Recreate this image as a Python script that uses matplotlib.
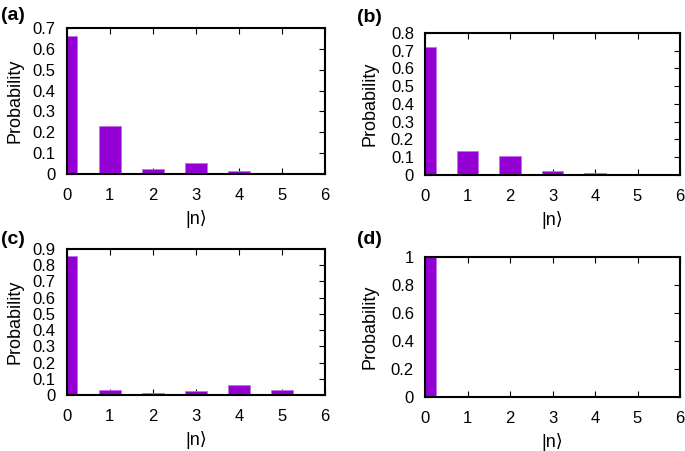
import matplotlib
matplotlib.use('Agg')
import matplotlib.pyplot as plt
from matplotlib.ticker import FormatStrFormatter, MultipleLocator

plt.rcParams['font.family'] = ['Liberation Sans', 'DejaVu Sans']

# photon-number states
n_states = [0, 1, 2, 3, 4, 5, 6]

# probabilities
prob_a = [0.663, 0.232, 0.022, 0.054, 0.014, 0.003, 0.004]
prob_b = [0.719, 0.137, 0.105, 0.021, 0.009, 0.002, 0.005]
prob_c = [0.857, 0.031, 0.012, 0.027, 0.060, 0.029, 0.0]
prob_d = [1.0, 0.0, 0.0, 0.0, 0.0, 0.0, 0.0]

panel_tags = ['(a)', '(b)', '(c)', '(d)']
y_tops = [0.7, 0.8, 0.9, 1.0]
y_steps = [0.1, 0.1, 0.1, 0.2]

W, H = 685, 451
fig = plt.figure(figsize=(W / 100, H / 100), dpi=100)

# axes boxes in pixels: left, top, right, bottom
boxes = [
    (66.7, 28, 325, 174),
    (425, 33, 680, 175),
    (66.7, 249, 325, 395),
    (425, 257, 680, 397),
]
tag_pos = [(1, 16), (357, 17), (1, 240), (357, 240)]
ylab_x = [24, 379, 24, 378]

purple = '#9400d3'

for i, probs in enumerate([prob_a, prob_b, prob_c, prob_d]):
    l, t, r, b = boxes[i]
    ax = fig.add_axes([l / W, 1 - b / H, (r - l) / W, (b - t) / H])
    ax.bar(n_states, probs, width=0.5, color=purple, edgecolor='#c070e8',
           linewidth=0.6, zorder=2)
    ax.set_xlim(0, 6)
    ax.set_ylim(0, y_tops[i])
    ax.xaxis.set_major_locator(MultipleLocator(1))
    ax.yaxis.set_major_locator(MultipleLocator(y_steps[i]))
    ax.yaxis.set_major_formatter(FormatStrFormatter('%g'))
    ax.tick_params(direction='in', top=True, right=True, length=4,
                   width=0.8, labelsize=12)
    ax.tick_params(axis='x', pad=10)
    ax.tick_params(axis='y', pad=8)
    for s in ax.spines.values():
        s.set_linewidth(1.5)
        s.set_zorder(3)
    ax.set_xlabel('|n\u27e9', fontsize=13, labelpad=5)
    ax.set_ylabel('Probability', fontsize=13)
    ax.yaxis.set_label_coords((ylab_x[i] - l) / (r - l), 0.5)
    fig.text(tag_pos[i][0] / W, 1 - tag_pos[i][1] / H, panel_tags[i],
             fontsize=14, fontweight='bold', va='center', ha='left')

fig.savefig('out.png', dpi=100)
